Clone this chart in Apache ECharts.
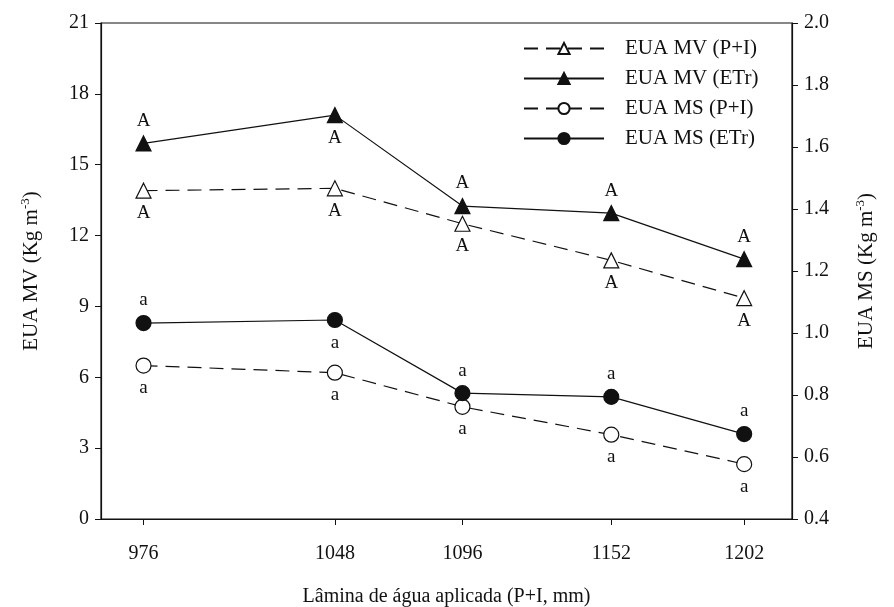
<!DOCTYPE html>
<html>
<head>
<meta charset="utf-8">
<script src="https://cdn.jsdelivr.net/npm/echarts@6/dist/echarts.min.js"></script>
<style>
  html, body { margin: 0; padding: 0; background: #fff; }
  #chart { width: 894px; height: 607px; }
</style>
</head>
<body>
<div id="chart"></div>
<script>
// x positions (mm of water applied)
const lamina = [976, 1048, 1096, 1152, 1202]

// EUA MV, left axis (Kg m-3)
const mvPI = [13.9, 14.0, 12.5, 10.95, 9.35]
const mvETr = [15.9, 17.1, 13.25, 12.95, 11.0]
// EUA MS, right axis (Kg m-3)
const msPI = [0.895, 0.872, 0.762, 0.672, 0.577]
const msETr = [1.032, 1.042, 0.806, 0.794, 0.674]

// significance letters
const mvPILetters = ['A', 'A', 'A', 'A', 'A']
const mvETrLetters = ['A', 'A', 'A', 'A', 'A']
const msPILetters = ['a', 'a', 'a', 'a', 'a']
const msETrLetters = ['a', 'a', 'a', 'a', 'a']

// where each letter sits relative to its point
const mvETrSide = ['top', 'bottom', 'top', 'top', 'top']
const msETrSide = ['top', 'bottom', 'top', 'top', 'top']

const font = 'Liberation Serif'
const ink = '#111'
const dash = [14, 8]

function points(values, letters, side) {
    return values.map((v, i) => ({
        value: [lamina[i], v],
        label: { formatter: letters[i], position: side ? side[i] : 'bottom' }
    }))
}

function makeSeries(name, values, letters, side, opts) {
    return {
        name,
        type: 'line',
        yAxisIndex: opts.yAxis,
        data: points(values, letters, side),
        symbol: opts.symbol,
        symbolSize: opts.size,
        itemStyle: { color: opts.filled ? ink : '#fff', borderColor: ink, borderWidth: 1.2 },
        lineStyle: { color: ink, width: 1.2, type: opts.dashed ? dash : 'solid' },
        label: { show: true, distance: 5, color: ink, fontFamily: font, fontSize: 19 },
        emphasis: { disabled: true },
        z: opts.filled ? 3 : 2
    }
}

const supStyle = { fontFamily: font, fontSize: 13, color: ink, verticalAlign: 'top', padding: [0, 0, 11, 0] }

const chart = echarts.init(document.getElementById('chart'))

chart.setOption({
    animation: false,
    textStyle: { fontFamily: font, color: ink },
    grid: {
        left: 101, right: 102, top: 23, bottom: 88,
        outerBoundsMode: 'none',
        containLabel: false,
        show: true, borderColor: ink, borderWidth: 1.2, backgroundColor: 'transparent'
    },
    legend: {
        orient: 'vertical',
        left: 518,
        top: 33,
        itemWidth: 80,
        itemHeight: 14,
        itemGap: 9,
        textStyle: { fontFamily: font, fontSize: 21, color: ink, padding: [0, 0, 0, 16] },
        data: ['EUA MV (P+I)', 'EUA MV (ETr)', 'EUA MS (P+I)', 'EUA MS (ETr)']
    },
    xAxis: {
        type: 'value',
        min: 960,
        max: 1220,
        name: 'Lâmina de água aplicada (P+I, mm)',
        nameLocation: 'middle',
        nameGap: 68,
        nameTextStyle: { fontFamily: font, fontSize: 20, color: ink },
        axisLine: { lineStyle: { color: ink, width: 1.2 } },
        axisTick: { customValues: lamina, length: 6, lineStyle: { color: ink } },
        axisLabel: {
            customValues: lamina, margin: 25, fontFamily: font, fontSize: 20, color: ink,
            formatter: v => String(v)
        },
        splitLine: { show: false }
    },
    yAxis: [
        {
            type: 'value',
            min: 0,
            max: 21,
            interval: 3,
            name: 'EUA MV (Kg m{sup|-3})',
            nameLocation: 'middle',
            nameGap: 58,
            nameTextStyle: { fontFamily: font, fontSize: 21, color: ink, rich: { sup: supStyle } },
            axisLine: { show: true, lineStyle: { color: ink, width: 1.2 } },
            axisTick: { show: true, length: 6, lineStyle: { color: ink } },
            axisLabel: { margin: 12, fontFamily: font, fontSize: 20, color: ink },
            splitLine: { show: false }
        },
        {
            type: 'value',
            min: 0.4,
            max: 2.0,
            interval: 0.2,
            position: 'right',
            name: 'EUA MS (Kg m{sup|-3})',
            nameLocation: 'middle',
            nameGap: 62,
            nameRotate: 90,
            nameTextStyle: { fontFamily: font, fontSize: 21, color: ink, rich: { sup: supStyle } },
            axisLine: { show: true, lineStyle: { color: ink, width: 1.2 } },
            axisTick: { show: true, length: 6, lineStyle: { color: ink } },
            axisLabel: {
                margin: 12, fontFamily: font, fontSize: 20, color: ink,
                formatter: v => v.toFixed(1)
            },
            splitLine: { show: false }
        }
    ],
    series: [
        makeSeries('EUA MV (P+I)', mvPI, mvPILetters, null, { yAxis: 0, symbol: 'triangle', size: 15, filled: false, dashed: true }),
        makeSeries('EUA MV (ETr)', mvETr, mvETrLetters, mvETrSide, { yAxis: 0, symbol: 'triangle', size: 15, filled: true, dashed: false }),
        makeSeries('EUA MS (P+I)', msPI, msPILetters, null, { yAxis: 1, symbol: 'circle', size: 15, filled: false, dashed: true }),
        makeSeries('EUA MS (ETr)', msETr, msETrLetters, msETrSide, { yAxis: 1, symbol: 'circle', size: 15, filled: true, dashed: false })
    ]
})
</script>
</body>
</html>
